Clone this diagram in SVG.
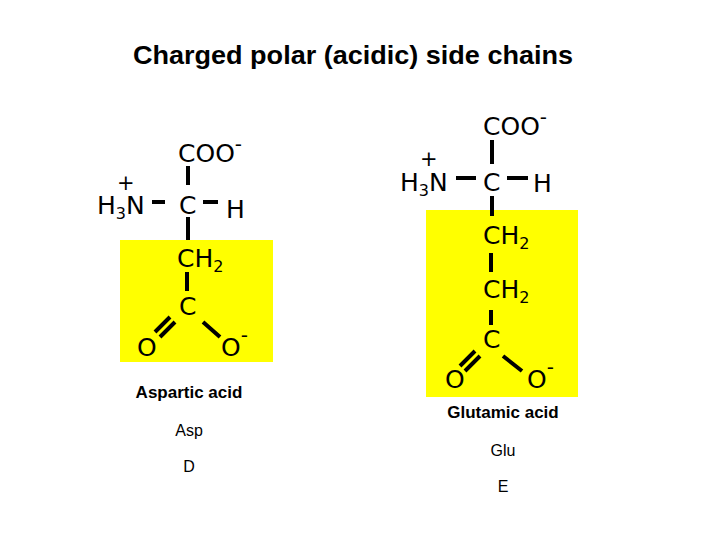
<svg xmlns="http://www.w3.org/2000/svg" width="720" height="540" viewBox="0 0 720 540">
<style>
.t{font-family:"Liberation Sans",Arial,sans-serif;font-weight:bold;fill:#000}
.c{font-family:"DejaVu Sans",sans-serif;font-size:25px;fill:#000}
.p{font-family:"DejaVu Sans",sans-serif;font-size:21px;fill:#000}
.s{font-size:16px}
.m{font-size:20px}
.l{font-family:"Liberation Sans",Arial,sans-serif;fill:#000;text-anchor:middle}
.b{stroke:#000;stroke-width:4;fill:none}
</style>
<rect width="720" height="540" fill="#fff"/>
<text class="t" x="353" y="64" font-size="25" text-anchor="middle" textLength="440" lengthAdjust="spacingAndGlyphs">Charged polar (acidic) side chains</text>
<rect x="120" y="240" width="153" height="122" fill="#ffff00"/>
<rect x="426" y="210" width="152" height="187" fill="#ffff00"/>
<g id="connectors">
<path class="b" d="M188 166V185M152 202H165M203 202H218M188 217V240M187 272V291M175 322L160 337M170 317L155 332M203 322L220 337"/>
<path class="b" d="M492 140V164M456 178H476M507 178H528M492 196V216M491 253V272M491 310V325M480 356L465 371M475 351L460 366M503 356L522 371"/>
</g>
<g id="asp">
<text class="c" x="178" y="162">COO<tspan class="m" dy="-11">-</tspan></text>
<text class="p" x="117" y="190">+</text>
<text class="c" x="97" y="214">H<tspan class="s" dy="5">3</tspan><tspan dy="-5">N</tspan></text>
<text class="c" x="179" y="214">C</text>
<text class="c" x="226" y="218">H</text>
<text class="c" x="177" y="267">CH<tspan class="s" dy="5">2</tspan></text>
<text class="c" x="179" y="315">C</text>
<text class="c" x="137" y="356">O</text>
<text class="c" x="221" y="356">O<tspan class="m" dy="-14">-</tspan></text>
<text class="l" x="189" y="398" font-size="17" font-weight="bold">Aspartic acid</text>
<text class="l" x="189" y="436" font-size="16">Asp</text>
<text class="l" x="189" y="472" font-size="16">D</text>
</g>
<g id="glu">
<text class="c" x="483" y="135">COO<tspan class="m" dy="-11">-</tspan></text>
<text class="p" x="420" y="166">+</text>
<text class="c" x="400" y="191">H<tspan class="s" dy="5">3</tspan><tspan dy="-5">N</tspan></text>
<text class="c" x="483" y="191">C</text>
<text class="c" x="533" y="192">H</text>
<text class="c" x="483" y="244">CH<tspan class="s" dy="5">2</tspan></text>
<text class="c" x="483" y="298">CH<tspan class="s" dy="5">2</tspan></text>
<text class="c" x="483" y="348">C</text>
<text class="c" x="445" y="388">O</text>
<text class="c" x="527" y="388">O<tspan class="m" dy="-14">-</tspan></text>
<text class="l" x="503" y="418" font-size="17" font-weight="bold">Glutamic acid</text>
<text class="l" x="503" y="456" font-size="16">Glu</text>
<text class="l" x="503" y="492" font-size="16">E</text>
</g>
</svg>
